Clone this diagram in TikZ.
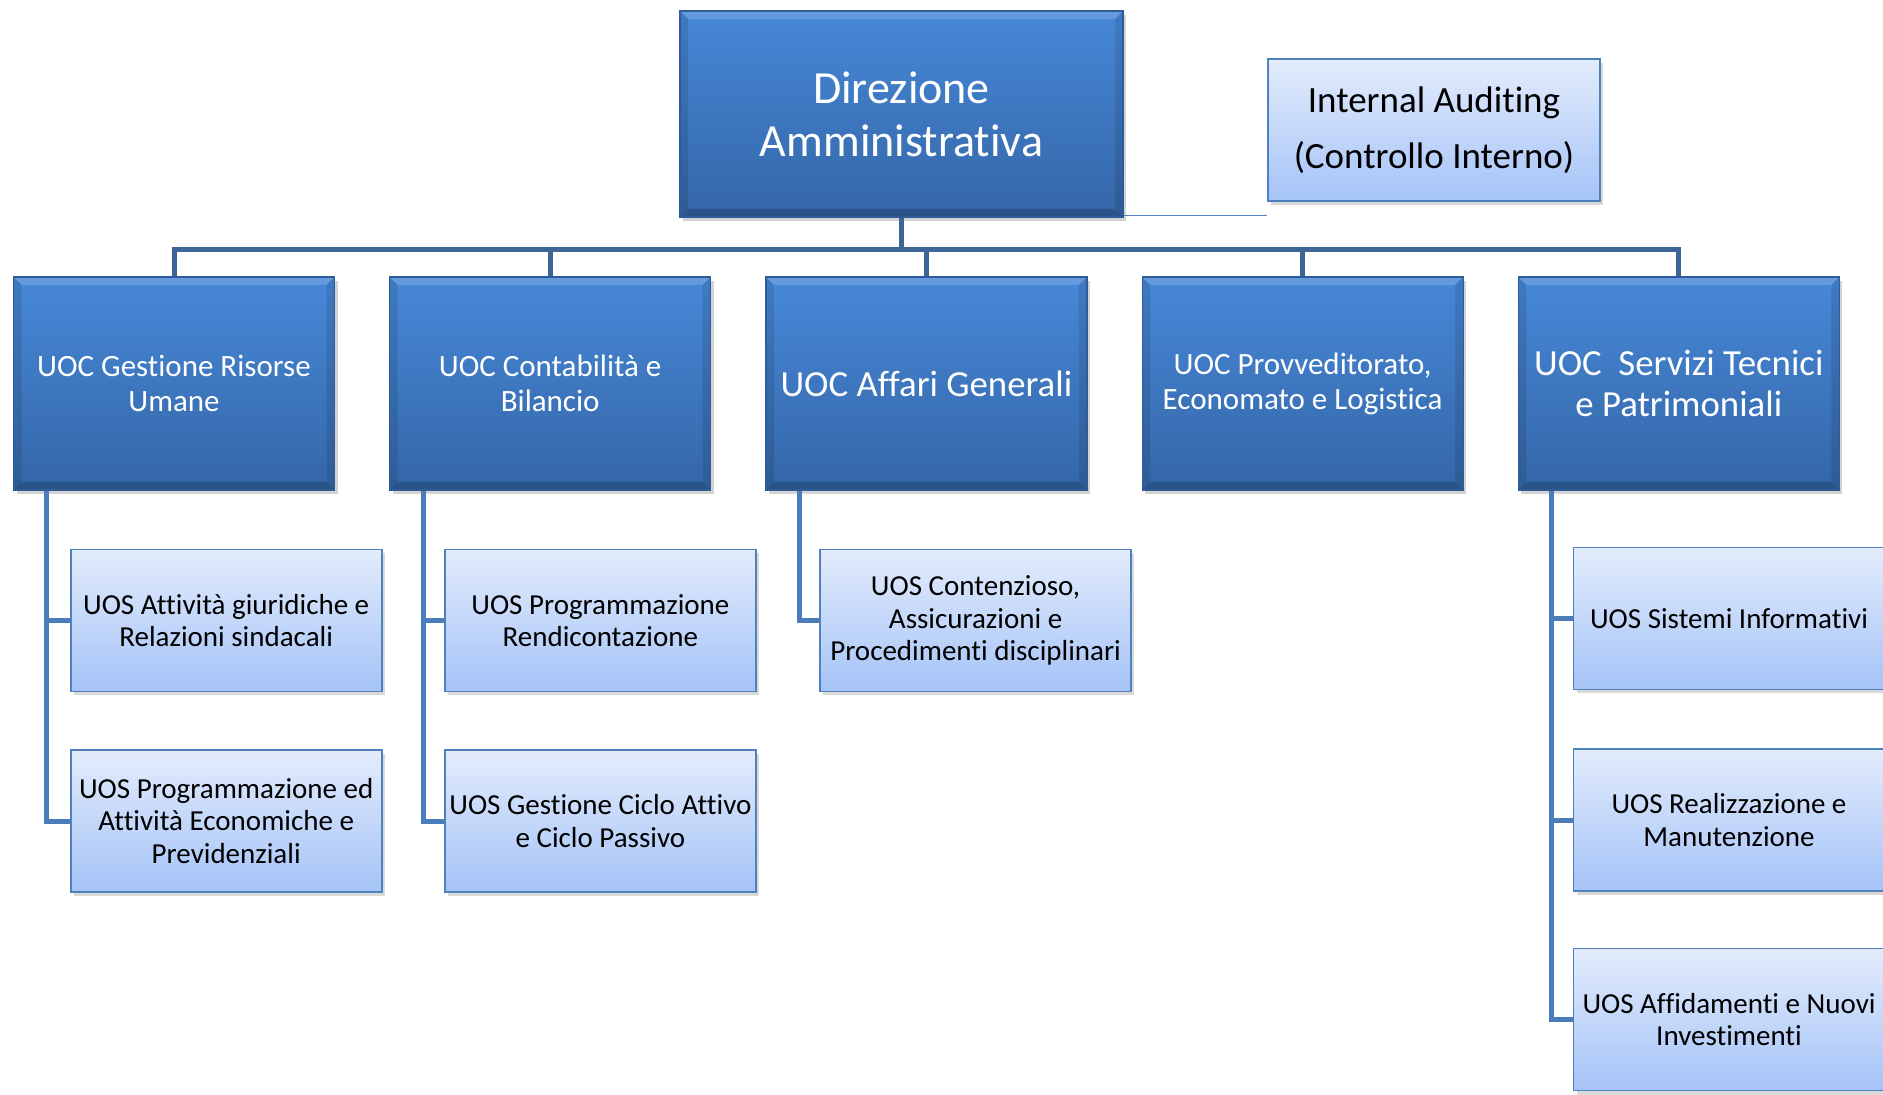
\documentclass[tikz,border=0pt]{standalone}
\usepackage{fontspec}
\setmainfont{Carlito}[Ligatures=NoCommon]
\usepackage{tikz}
\usetikzlibrary{
        positioning,
        shadows
    }
\definecolor{uocTop}{HTML}{4788D8}
\definecolor{uocBot}{HTML}{3466A7}
\definecolor{uocEdge}{HTML}{2F5C96}
\definecolor{uosTop}{HTML}{E3ECFC}
\definecolor{uosBot}{HTML}{A5C3F7}
\definecolor{uosEdge}{HTML}{4F81BD}
\definecolor{busCol}{HTML}{3D6596}
\definecolor{spineCol}{HTML}{4A7DBA}
\tikzset{
    bevel/.style={path picture={
        \fill[white,opacity=0.16] (path picture bounding box.north west) -- (path picture bounding box.north east)
            -- ([xshift=-4pt,yshift=-4pt]path picture bounding box.north east) -- ([xshift=4pt,yshift=-4pt]path picture bounding box.north west) -- cycle;
        \fill[black,opacity=0.10] (path picture bounding box.north west) -- (path picture bounding box.south west)
            -- ([xshift=4pt,yshift=4pt]path picture bounding box.south west) -- ([xshift=4pt,yshift=-4pt]path picture bounding box.north west) -- cycle;
        \fill[black,opacity=0.10] (path picture bounding box.north east) -- (path picture bounding box.south east)
            -- ([xshift=-4pt,yshift=4pt]path picture bounding box.south east) -- ([xshift=-4pt,yshift=-4pt]path picture bounding box.north east) -- cycle;
        \fill[black,opacity=0.18] (path picture bounding box.south west) -- (path picture bounding box.south east)
            -- ([xshift=-4pt,yshift=4pt]path picture bounding box.south east) -- ([xshift=4pt,yshift=4pt]path picture bounding box.south west) -- cycle;
    }},
    uoc/.style={draw=uocEdge, line width=0.6pt, top color=uocTop, bottom color=uocBot, bevel,
        text=white, align=center, inner sep=1pt, minimum width=160.5pt, minimum height=106.5pt,
        drop shadow={shadow xshift=1.5pt, shadow yshift=-2pt, opacity=0.35},
        font=\fontsize{15.5}{17.5}\selectfont},
    uocbig/.style={uoc, font=\fontsize{18.4}{20.5}\selectfont},
    uos/.style={draw=uosEdge, line width=0.8pt, top color=uosTop, bottom color=uosBot,
        text=black, align=center, inner sep=0.5pt, minimum width=155.5pt, minimum height=71pt,
        drop shadow={shadow xshift=1.5pt, shadow yshift=-2pt, opacity=0.3},
        font=\fontsize{14.5}{16.2}\selectfont},
    bus/.style={draw=busCol, line width=2.5pt},
    spine/.style={draw=spineCol, line width=2.5pt},
    auditline/.style={draw=uosEdge, line width=0.7pt}
}

\begin{document}
\begin{tikzpicture}[x=0.5pt,y=-0.5pt]
        \useasboundingbox (0,0) rectangle (1883,1095);
        \clip (0,0) rectangle (1883,1095);
        % top level
        \node[uoc, minimum width=221.5pt, minimum height=103pt, font=\fontsize{23}{26.5}\selectfont] (dir) at (901.5,114) {Direzione\\Amministrativa};
        \node[uos, minimum width=166pt, minimum height=71pt, font=\fontsize{18.5}{28}\selectfont] (audit) at (1434,130) {Internal Auditing\\(Controllo Interno)};
        % UOC row
        \node[uoc] (g1) at (174,383.5) {UOC Gestione Risorse\\Umane};
        \node[uoc, right=27pt of g1] (g2) {UOC Contabilità e\\Bilancio};
        \node[uocbig, right=27pt of g2] (g3) {UOC Affari Generali};
        \node[uoc, right=27pt of g3] (g4) {UOC Provveditorato,\\Economato e Logistica};
        \node[uocbig, right=27pt of g4] (g5) {UOC\ \ Servizi Tecnici\\e Patrimoniali};
        % UOS boxes
        \node[uos, below right=29pt and 28.5pt of g1.south west] (u11) {UOS Attività giuridiche e\\Relazioni sindacali};
        \node[uos, below=28.5pt of u11] (u12) {UOS Programmazione ed\\Attività Economiche e\\Previdenziali};
        \node[uos, below right=29pt and 27.5pt of g2.south west] (u21) {UOS Programmazione\\Rendicontazione};
        \node[uos, below=28.5pt of u21] (u22) {UOS Gestione Ciclo Attivo\\e Ciclo Passivo};
        \node[uos, below right=29pt and 27pt of g3.south west] (u31) {UOS Contenzioso,\\Assicurazioni e\\Procedimenti disciplinari};
        \node[uos, below right=28pt and 27.5pt of g5.south west] (u51) {UOS Sistemi Informativi};
        \node[uos, below=29pt of u51] (u52) {UOS Realizzazione e\\Manutenzione};
        \node[uos, below=28pt of u52] (u53) {UOS Affidamenti e Nuovi\\Investimenti};
        % connectors
        \coordinate (dirTap) at ([yshift=1pt]dir.south east);
        \draw[auditline] (dirTap) -- (dirTap -| audit.west);
        \draw[bus] (dir.south) -- ++(0,33);
        \draw[bus] (g1.north) -- ++(0,-27) -| (g5.north);
        \foreach \k in {2,3,4}
            \draw[bus] (g\k.north) -- ++(0,-27);
        \foreach \c/\last in {1/u12, 2/u22, 3/u31, 5/u53} {
            \coordinate (s\c) at ([xshift=17pt]g\c.south west);
            \draw[spine] (s\c) |- (\last.west);
        }
        \foreach \b/\c in {u11/1, u21/2, u51/5, u52/5}
            \draw[spine] (\b.west) -- (\b.west -| s\c);
\end{tikzpicture}
\end{document}
